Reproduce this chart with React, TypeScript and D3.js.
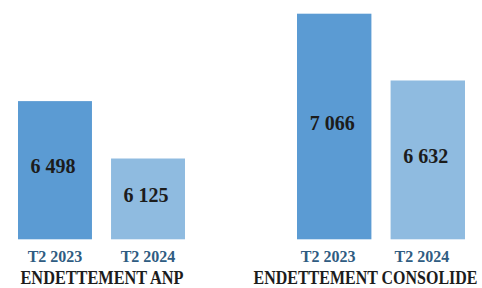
import * as d3 from "d3";

// data
const periods = ["T2 2023", "T2 2024"];
const anpValues = [6498, 6125];
const consolideValues = [7066, 6632];
const panelTitles = ["ENDETTEMENT ANP", "ENDETTEMENT CONSOLIDE"];

const barColors = ["#5b9bd3", "#8fbbe0"];
const labelColor = "#2f5c82";
const font = "Liberation Serif, Times New Roman, serif";

const width = 482;
const height = 288;

const frLocale = d3.formatLocale({
  decimal: ",",
  thousands: " ",
  grouping: [3],
  currency: ["", ""],
});
const fmt = frLocale.format(",d");

const panels = [
  { title: panelTitles[0], values: anpValues, x0: 18, x1: 185, titleX: 102, titleW: 163, labelShift: 0 },
  { title: panelTitles[1], values: consolideValues, x0: 297, x1: 465, titleX: 365.5, titleW: 224, labelShift: -6 },
];

export default function App() {
  const y = d3.scaleLinear().domain([5600, 7066]).range([239.3, 13.7]);

  return (
    <svg
      width={width}
      height={height}
      style={{ position: "absolute", left: 0, top: 0, background: "#fff" }}
    >
      {panels.map((p) => {
        const x = d3
          .scaleBand<string>()
          .domain(periods)
          .range([p.x0, p.x1])
          .paddingInner(0.205)
          .paddingOuter(0);
        return (
          <g key={p.title}>
            {periods.map((per, i) => {
              const v = p.values[i];
              const bx = x(per)!;
              const bw = x.bandwidth();
              const top = y(v);
              const bottom = y(5600);
              return (
                <g key={per}>
                  <rect x={bx} y={top} width={bw} height={bottom - top} fill={barColors[i]} />
                  <text
                    x={bx + bw / 2 - 2}
                    y={(top + bottom) / 2 + 3}
                    textAnchor="middle"
                    fontFamily={font}
                    fontWeight="bold"
                    fontSize={20}
                    fill="#1c1c1c"
                  >
                    {fmt(v)}
                  </text>
                  <text
                    x={bx + bw / 2 + p.labelShift}
                    y={262}
                    textAnchor="middle"
                    fontFamily={font}
                    fontWeight="bold"
                    fontSize={16}
                    fill={labelColor}
                  >
                    {per}
                  </text>
                </g>
              );
            })}
            {/* title: slightly stretched vertically like the source */}
            <text
              transform={`translate(${p.titleX},284) scale(1,1.18)`}
              textAnchor="middle"
              fontFamily={font}
              fontWeight="bold"
              fontSize={16}
              textLength={p.titleW}
              lengthAdjust="spacingAndGlyphs"
              fill="#1c1c1c"
            >
              {p.title}
            </text>
          </g>
        );
      })}
    </svg>
  );
}
